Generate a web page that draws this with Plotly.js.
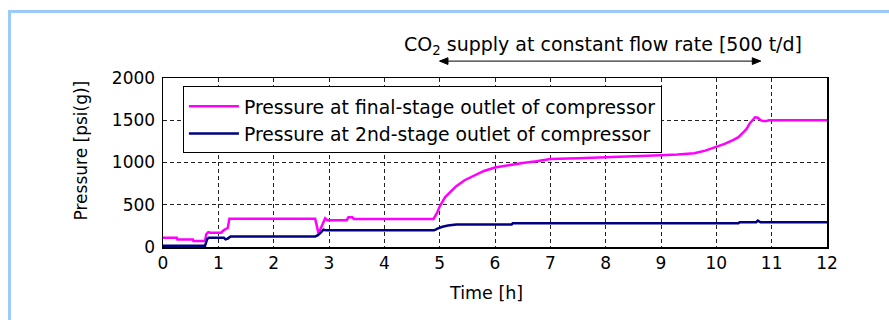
<!DOCTYPE html>
<html>
<head>
<meta charset="utf-8">
<script src="https://cdn.plot.ly/plotly-3.0.1.min.js"></script>
<style>
  html, body { margin: 0; padding: 0; background: #ffffff; }
  #wrap { position: relative; width: 889px; height: 320px; }
  #chart { width: 889px; height: 320px; }
  #frame { position: absolute; left: 8px; top: 10px; width: 881px; height: 310px;
           border-left: 3px solid #9DCBF9; border-top: 3px solid #9DCBF9;
           box-sizing: border-box; pointer-events: none; }
</style>
</head>
<body>
<div id="wrap">
  <div id="chart"></div>
  <div id="frame"></div>
</div>
<script>
// Time [h] and pressure [psi(g)]
const finalTime = [0, 0.25, 0.26, 0.54, 0.55, 0.76, 0.78, 0.82, 0.86, 1.05, 1.1, 1.14, 1.17, 1.2,
  2.75, 2.78, 2.81, 2.87, 2.93, 2.97, 3.32, 3.35, 3.42, 3.45, 4.89, 4.95, 5.0, 5.1, 5.2, 5.3,
  5.45, 5.6, 5.8, 6.0, 6.25, 6.5, 6.75, 7.0, 7.5, 8.0, 8.5, 9.0, 9.3, 9.6, 9.8, 10.0, 10.15,
  10.3, 10.4, 10.5, 10.55, 10.6, 10.65, 10.7, 10.75, 10.8, 10.85, 10.9, 10.95, 11.0, 12];
const finalPressure = [110, 110, 90, 90, 70, 70, 150, 175, 170, 170, 200, 220, 225, 335,
  335, 250, 160, 250, 340, 318, 318, 352, 352, 332, 332, 400, 480, 590, 660, 720,
  790, 840, 900, 940, 970, 995, 1015, 1040, 1050, 1060, 1070, 1085, 1095, 1110, 1140, 1185, 1220,
  1265, 1300, 1365, 1400, 1460, 1500, 1535, 1530, 1500, 1490, 1490, 1500, 1500, 1500];

const secondTime = [0, 0.76, 0.8, 0.83, 1.1, 1.13, 1.17, 1.22, 2.75, 2.8, 2.85, 2.9, 2.95,
  4.9, 4.97, 5.05, 5.15, 5.3, 6.3, 6.32, 10.4, 10.42, 10.72, 10.75, 10.8, 12];
const secondPressure = [15, 15, 95, 110, 110, 90, 100, 125, 125, 140, 170, 205, 197,
  197, 220, 240, 255, 265, 265, 280, 280, 293, 293, 312, 293, 293];

const seriesNames = ["Pressure at final-stage outlet of compressor",
                     "Pressure at 2nd-stage outlet of compressor"];
const xTicks = [0,1,2,3,4,5,6,7,8,9,10,11,12];
const yTicks = [0, 500, 1000, 1500, 2000];
// CO2 supply period [h]
const supplyStart = 5, supplyEnd = 10.8;
const supplyLabel = "CO<sub>2</sub> supply at constant flow rate [500 t/d]";
const xTitle = "Time [h]";
const yTitle = "Pressure [psi(g)]";

const FONT = "DejaVu Sans, Verdana, sans-serif";

const traces = [
  { x: finalTime, y: finalPressure, name: seriesNames[0], mode: "lines",
    line: { color: "#FF00FF", width: 2.5 }, hoverinfo: "skip" },
  { x: secondTime, y: secondPressure, name: seriesNames[1], mode: "lines",
    line: { color: "#000080", width: 2.5 }, hoverinfo: "skip" }
];

// double-headed arrow above the plot for the supply period (x in hours, y in paper units)
const arrowY = 1.10, headLen = 0.15, headHalf = 0.02;
const arrowShapes = [
  { type: "line", xref: "x", yref: "paper", x0: supplyStart, x1: supplyEnd, y0: arrowY, y1: arrowY,
    line: { color: "#000000", width: 1 } },
  { type: "path", xref: "x", yref: "paper", fillcolor: "#000000", line: { color: "#000000", width: 1 },
    path: `M${supplyStart},${arrowY} L${supplyStart + headLen},${arrowY + headHalf} L${supplyStart + headLen},${arrowY - headHalf} Z` },
  { type: "path", xref: "x", yref: "paper", fillcolor: "#000000", line: { color: "#000000", width: 1 },
    path: `M${supplyEnd},${arrowY} L${supplyEnd - headLen},${arrowY + headHalf} L${supplyEnd - headLen},${arrowY - headHalf} Z` }
];

const layout = {
  width: 889, height: 320,
  margin: { l: 163, r: 62, t: 78, b: 73 },
  paper_bgcolor: "#ffffff", plot_bgcolor: "#ffffff",
  font: { family: FONT, size: 17, color: "#000000" },
  showlegend: true,
  legend: {
    x: 0.03, y: 0.95, xanchor: "left", yanchor: "top",
    bgcolor: "#ffffff", bordercolor: "#000000", borderwidth: 1,
    font: { family: FONT, size: 18.8, color: "#000000" },
    itemwidth: 50, tracegroupgap: 0
  },
  xaxis: {
    range: [0, 12], tickvals: xTicks, ticktext: xTicks.map(String),
    showgrid: true, gridcolor: "#222222", gridwidth: 1, griddash: "4px,3px",
    showline: true, linecolor: "#000000", linewidth: 1.5, mirror: true,
    zeroline: false, ticks: "", fixedrange: true,
    tickfont: { family: FONT, size: 17 }
  },
  yaxis: {
    range: [0, 2000], tickvals: yTicks, ticktext: yTicks.map(String),
    showgrid: true, gridcolor: "#222222", gridwidth: 1, griddash: "4px,3px",
    showline: true, linecolor: "#000000", linewidth: 1.5, mirror: true,
    zeroline: false, ticks: "", fixedrange: true, ticklabelstandoff: 3,
    tickfont: { family: FONT, size: 17 }
  },
  shapes: arrowShapes,
  annotations: [
    { x: 7.95, y: 1.195, xref: "x", yref: "paper",
      xanchor: "center", yanchor: "middle", showarrow: false,
      text: supplyLabel, font: { family: FONT, size: 19, color: "#000000" } },
    { x: 0.487, y: -0.272, xref: "paper", yref: "paper",
      xanchor: "center", yanchor: "middle", showarrow: false,
      text: xTitle, font: { family: FONT, size: 17.5, color: "#000000" } },
    { x: -0.1235, y: 0.571, xref: "paper", yref: "paper",
      xanchor: "center", yanchor: "middle", showarrow: false, textangle: -90,
      text: yTitle, font: { family: FONT, size: 17, color: "#000000" } }
  ]
};

Plotly.newPlot("chart", traces, layout, { displayModeBar: false, staticPlot: true });
</script>
</body>
</html>
